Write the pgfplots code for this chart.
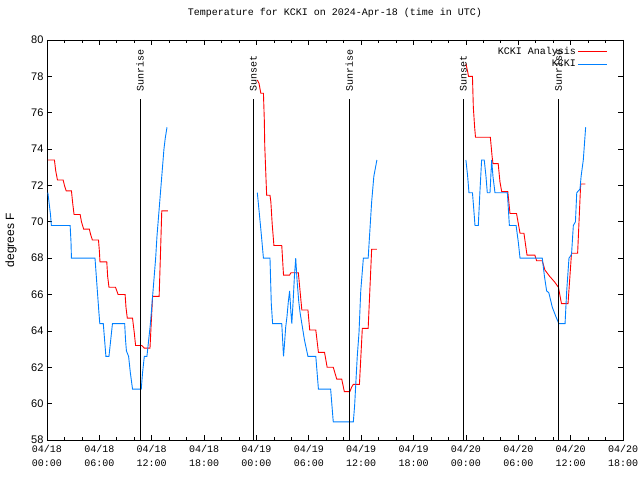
\documentclass[border=0pt]{standalone}
\usepackage{pgfplots}
\pgfplotsset{compat=1.18}
\usepackage{fontspec}
\setmainfont{Liberation Mono}
\setsansfont{Liberation Sans}
\definecolor{gred}{RGB}{255,0,0}
\definecolor{gblue}{RGB}{0,128,255}
\newcommand{\mono}{\fontsize{10}{12}\selectfont\rmfamily}
\begin{document}
\begin{tikzpicture}[x=1pt,y=1pt]
\useasboundingbox (-47,-40) rectangle (593,440);
\begin{axis}[
  at={(0,0)}, anchor=south west,
  scale only axis, width=576pt, height=400pt,
  xmin=0, xmax=66, ymin=58, ymax=80,
  axis line style={black, line width=0.8pt},
  every tick/.style={black, line width=0.8pt},
  tick align=inside, tick pos=both,
  major tick length=5pt, minor tick length=3pt,
  xtick={0,6,...,66}, minor x tick num=2,
  xticklabels={{04/18\\[2pt]00:00},{04/18\\[2pt]06:00},{04/18\\[2pt]12:00},{04/18\\[2pt]18:00},{04/19\\[2pt]00:00},{04/19\\[2pt]06:00},{04/19\\[2pt]12:00},{04/19\\[2pt]18:00},{04/20\\[2pt]00:00},{04/20\\[2pt]06:00},{04/20\\[2pt]12:00},{04/20\\[2pt]18:00}},
  xticklabel style={align=center, font=\fontsize{10}{12}\selectfont\rmfamily, yshift=-2pt},
  ytick={58,60,...,80},
  yticklabel style={font=\fontsize{11}{12}\selectfont\sffamily},
  /pgf/number format/assume math mode=true,
  unbounded coords=jump,
  clip=false,
  title={Temperature for KCKI on 2024-Apr-18 (time in UTC)},
  title style={font=\mono, at={(0.5,1)}, anchor=center, yshift=21pt},
  legend style={at={(1,1)}, anchor=north east, xshift=-12pt, yshift=-3pt, draw=none, fill=none, font=\mono},
  legend cell align=right,
  legend plot pos=right,
  legend image code/.code={\draw[#1] plot coordinates {(0pt,0pt) (14.5pt,0pt) (29pt,0pt)};},
]
\addplot[gred, line width=0.9pt] coordinates {
(0.1,73.4)(0.85,73.4)(1.0,72.8)(1.2,72.3)(1.85,72.3)(2.0,72.0)(2.2,71.7)(2.8,71.7)(2.95,71.0)(3.1,70.4)(3.8,70.4)(3.95,70.0)(4.2,69.6)(4.85,69.6)(5.0,69.3)(5.2,69.0)(5.9,69.0)(6.0,68.4)(6.07,67.8)(6.85,67.8)(6.95,67.0)(7.1,66.4)(7.85,66.4)(8.0,66.2)(8.15,66.0)(8.95,66.0)(9.05,65.3)(9.2,64.7)(9.8,64.7)(10.0,63.9)(10.15,63.2)(10.85,63.2)(11.15,63.05)(11.8,63.05)(11.95,64.5)(12.1,65.9)(12.85,65.9)(13.0,68.2)(13.15,70.6)(13.85,70.6)
(18,nan)
(24.1,77.8)(24.3,77.6)(24.5,77.07)(24.8,77.07)(24.9,75.6)(24.95,74.2)(25.1,72.3)(25.17,71.46)(25.55,71.46)(25.65,71.1)(25.8,69.9)(26.0,68.7)(26.9,68.7)(27.1,67.07)(27.8,67.07)(27.95,67.2)(28.8,67.2)(29.2,65.15)(29.9,65.15)(30.1,64.05)(30.8,64.05)(31.1,62.82)(31.8,62.82)(32.1,62.0)(32.8,62.0)(33.2,61.35)(33.77,61.35)(34.07,60.66)(34.7,60.66)(34.9,60.9)(35.1,61.06)(35.8,61.06)(36.13,64.14)(36.8,64.14)(37.2,68.49)(37.8,68.49)
(42,nan)
(48.0,78.7)(48.2,78.26)(48.3,78.0)(48.75,78.0)(48.85,76.3)(49.0,75.2)(49.1,74.65)(50.8,74.65)(51.0,73.6)(51.1,73.2)(51.7,73.2)(51.9,72.2)(52.1,71.66)(52.8,71.66)(53.05,70.46)(53.8,70.46)(54.2,69.37)(54.65,69.37)(55.0,68.17)(55.9,68.17)(56.1,67.86)(56.75,67.86)(57.05,67.35)(57.6,67.0)(58.15,66.7)(58.6,66.4)(58.95,65.5)(59.7,65.5)(60.1,68.27)(60.8,68.27)(61.15,72.08)(61.7,72.08)
};
\addlegendentry{KCKI Analysis}
\addplot[gblue, line width=0.9pt] coordinates {
(0.1,71.6)(0.25,71.0)(0.4,70.4)(0.5,69.8)(2.65,69.8)(2.75,68.9)(2.8,68.0)(5.5,68.0)(5.65,67.0)(5.8,66.0)(5.95,65.0)(6.05,64.4)(6.45,64.4)(6.6,63.5)(6.75,62.6)(7.1,62.6)(7.3,63.5)(7.5,64.4)(8.9,64.4)(9.0,63.5)(9.1,62.9)(9.35,62.6)(9.55,61.7)(9.8,60.8)(10.8,60.8)(10.95,61.7)(11.15,62.6)(11.45,62.6)(11.65,63.5)(11.85,64.4)(12.05,65.6)(12.25,66.8)(12.45,68.0)(12.6,69.2)(12.8,70.4)(13.0,71.6)(13.2,72.8)(13.4,74.0)(13.55,74.6)(13.75,75.2)
(18,nan)
(24.1,71.6)(24.3,70.6)(24.5,69.6)(24.65,68.8)(24.8,68.0)(25.55,68.0)(25.7,65.5)(25.85,64.4)(26.9,64.4)(27.0,63.5)(27.1,62.6)(27.2,63.2)(27.35,64.2)(27.5,64.8)(27.65,65.6)(27.8,66.2)(27.95,65.0)(28.05,64.4)(28.2,65.6)(28.35,67.0)(28.5,68.0)(28.65,66.8)(28.85,65.6)(29.0,65.0)(29.2,64.4)(29.5,63.5)(29.9,62.6)(30.8,62.6)(30.95,61.7)(31.1,60.8)(32.5,60.8)(32.65,59.9)(32.8,59.0)(35.1,59.0)(35.25,59.9)(35.55,62.6)(35.75,63.9)(35.95,66.2)(36.25,68.0)(36.8,68.0)(37.0,69.55)(37.2,71.1)(37.45,72.5)(37.8,73.4)
(42,nan)
(48.0,73.4)(48.2,72.5)(48.35,71.6)(48.75,71.6)(48.9,70.7)(49.04,69.8)(49.42,69.8)(49.6,71.6)(49.8,73.4)(50.1,73.4)(50.3,72.5)(50.45,71.6)(50.76,71.6)(50.95,73.4)(51.1,72.5)(51.33,71.6)(52.75,71.6)(52.98,69.8)(53.75,69.8)(54.0,68.9)(54.2,68.0)(56.75,68.0)(57.0,67.0)(57.25,66.2)(57.5,66.1)(57.9,65.3)(58.3,64.8)(58.65,64.4)(59.36,64.4)(59.55,66.2)(59.81,68.0)(60.1,68.2)(60.31,69.8)(60.55,70.0)(60.7,71.6)(61.07,71.8)(61.2,72.5)(61.45,73.4)(61.72,75.2)
};
\addlegendentry{KCKI}
\addplot[black, line width=0.9pt, forget plot] coordinates {(10.66,58)(10.66,76.75)};
\addplot[black, line width=0.9pt, forget plot] coordinates {(23.64,58)(23.64,76.75)};
\addplot[black, line width=0.9pt, forget plot] coordinates {(34.64,58)(34.64,76.75)};
\addplot[black, line width=0.9pt, forget plot] coordinates {(47.7,58)(47.7,76.75)};
\addplot[black, line width=0.9pt, forget plot] coordinates {(58.59,58)(58.59,76.75)};
\node[rotate=90, anchor=west, inner sep=0pt, font=\mono] at (axis cs:10.66,77.15) {Sunrise};
\node[rotate=90, anchor=west, inner sep=0pt, font=\mono] at (axis cs:23.64,77.15) {Sunset};
\node[rotate=90, anchor=west, inner sep=0pt, font=\mono] at (axis cs:34.64,77.15) {Sunrise};
\node[rotate=90, anchor=west, inner sep=0pt, font=\mono] at (axis cs:47.7,77.15) {Sunset};
\node[rotate=90, anchor=west, inner sep=0pt, font=\mono] at (axis cs:58.59,77.15) {Sunrise};
\node[xshift=-36pt, rotate=90, font=\fontsize{12}{14}\selectfont\sffamily] at (rel axis cs:0,0.5) {degrees F};
\end{axis}
\end{tikzpicture}
\end{document}
